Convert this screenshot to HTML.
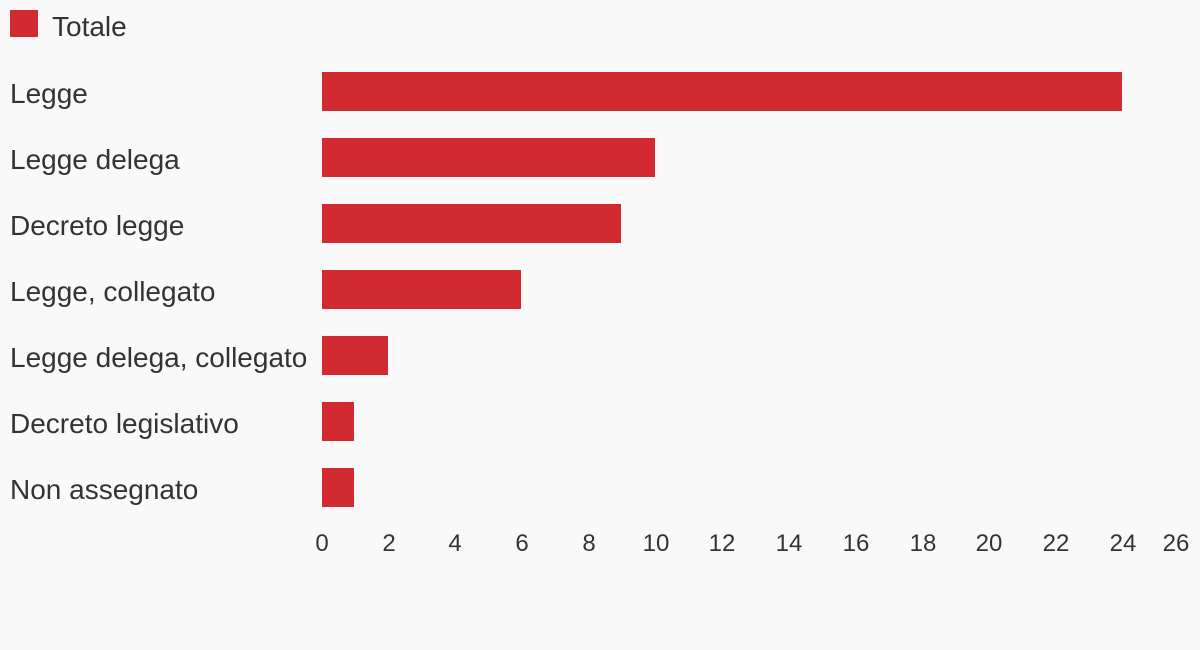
<!DOCTYPE html>
<html><head><meta charset="utf-8"><style>
body{margin:0;background:#f9f9f9;}
svg{display:block;font-family:"Liberation Sans",sans-serif;fill:#333;}
</style></head><body>
<svg width="1200" height="650" viewBox="0 0 1200 650">
<rect width="1200" height="650" fill="#f9f9f9"/>
<rect x="10" y="10" width="28" height="27" fill="#d12b31"/>
<text x="52" y="36" font-size="28">Totale</text>
<g font-size="28">
<text x="10" y="103">Legge</text>
<text x="10" y="169">Legge delega</text>
<text x="10" y="235">Decreto legge</text>
<text x="10" y="301">Legge, collegato</text>
<text x="10" y="367">Legge delega, collegato</text>
<text x="10" y="433">Decreto legislativo</text>
<text x="10" y="499">Non assegnato</text>
</g>
<g fill="#d12b31">
<rect x="322" y="72" width="800" height="39"/>
<rect x="322" y="138" width="333" height="39"/>
<rect x="322" y="204" width="299" height="39"/>
<rect x="322" y="270" width="199" height="39"/>
<rect x="322" y="336" width="66" height="39"/>
<rect x="322" y="402" width="32" height="39"/>
<rect x="322" y="468" width="32" height="39"/>
</g>
<g font-size="24" text-anchor="middle">
<text x="322" y="551">0</text><text x="389" y="551">2</text><text x="455" y="551">4</text>
<text x="522" y="551">6</text><text x="589" y="551">8</text><text x="656" y="551">10</text>
<text x="722" y="551">12</text><text x="789" y="551">14</text><text x="856" y="551">16</text>
<text x="923" y="551">18</text><text x="989" y="551">20</text><text x="1056" y="551">22</text>
<text x="1123" y="551">24</text><text x="1176" y="551">26</text>
</g>
</svg>
</body></html>
